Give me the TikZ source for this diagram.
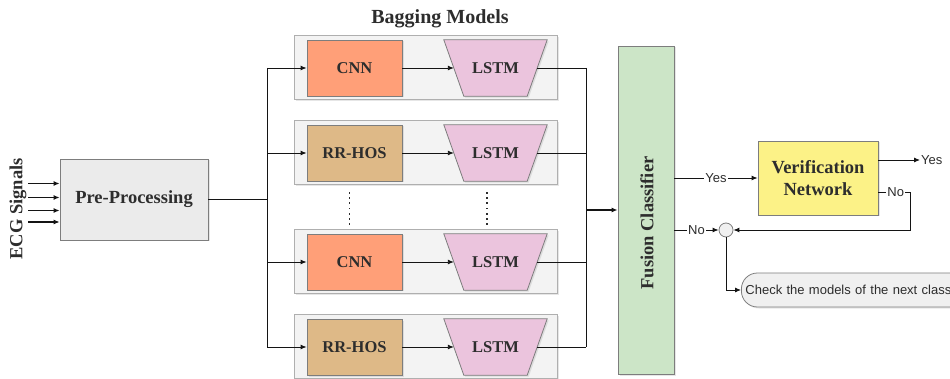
\documentclass[tikz,border=0pt]{standalone}
\usepackage{fontspec}
\setmainfont{Liberation Serif}
\newfontfamily\arialf{Liberation Sans}
\usetikzlibrary{arrows.meta,shadows}

\definecolor{cnnfill}{RGB}{255,159,120}
\definecolor{hosfill}{RGB}{222,185,135}
\definecolor{lstmfill}{RGB}{235,196,221}
\definecolor{grpfill}{RGB}{243,243,243}
\definecolor{grpline}{RGB}{175,175,175}
\definecolor{prefill}{RGB}{235,235,235}
\definecolor{fusfill}{RGB}{204,229,199}
\definecolor{verfill}{RGB}{252,242,135}
\definecolor{chkfill}{RGB}{240,240,240}
\definecolor{txt}{RGB}{45,45,45}
\definecolor{edge}{RGB}{125,125,125}
\definecolor{wire}{RGB}{20,20,20}

\begin{document}
\begin{tikzpicture}[x=1pt,y=-1pt,
  shade/.style={drop shadow={shadow xshift=1.5pt,shadow yshift=-1.5pt,opacity=0.2}},
  group/.style={draw=grpline,fill=grpfill,line width=0.8pt,minimum width=263pt,minimum height=64pt,inner sep=0pt,shade},
  lbl/.style={text=txt,inner sep=0pt,font=\bfseries\fontsize{16.5}{18}\selectfont},
  block/.style={lbl,draw=edge,line width=0.8pt,shade},
  cnnbox/.style={block,fill=cnnfill,minimum width=95pt,minimum height=56pt},
  hosbox/.style={block,fill=hosfill,minimum width=95pt,minimum height=56pt},
  lstmframe/.style={inner sep=0pt,minimum width=103pt,minimum height=56pt},
  lstmshape/.style={draw=edge,fill=lstmfill,line width=0.8pt,line join=miter,shade},
  bigtxt/.style={text=txt,font=\bfseries\fontsize{18.5}{21}\selectfont},
  ans/.style={font=\arialf\fontsize{13}{15}\selectfont,text=txt,fill=white,inner sep=1pt},
  wirel/.style={draw=wire,line width=0.9pt},
  arr/.style={wirel,-{Latex[length=6pt,width=5pt]}},
]
\useasboundingbox (0,0) rectangle (950,379);
\clip (0,0) rectangle (950,379);

% title
\node[text=txt,font=\bfseries\fontsize{20}{22}\selectfont] (title) at (440,19) {Bagging Models};

% input signals and pre-processing
\node[bigtxt,rotate=90] (ecg) at (18,209) {ECG Signals};
\node[block,fill=prefill,minimum width=148pt,minimum height=81pt,
  font=\bfseries\fontsize{18.5}{21}\selectfont] (pre) at (134,199.5) {Pre-Processing};
\foreach \i/\yy in {0/183.5,1/197.5,2/210.5,3/222} {
  \coordinate (in\i) at (28,\yy);
  \draw[arr,line width=1.1pt] (in\i) -- (pre.west|-in\i);
}

% bagging groups: feature extractor followed by an LSTM
\foreach \m/\yy/\feat/\fstyle in {A/68/CNN/cnnbox,B/153/RR-HOS/hosbox,C/262/CNN/cnnbox,D/347/RR-HOS/hosbox} {
  \node[group] (g\m) at (425.5,\yy-0.5) {};
  \node[\fstyle] (f\m) at (354.5,\yy) {\feat};
  \node[lstmframe] (l\m) at (495.5,\yy) {};
  \path[lstmshape] (l\m.north west) -- (l\m.north east)
    -- ([xshift=-20pt]l\m.south east) -- ([xshift=20pt]l\m.south west) -- cycle;
  \node[lbl] (lt\m) at (l\m) {LSTM};
}

% omitted models
\foreach \xx in {349.5,487} {
  \foreach \k in {0,...,6} {
    \fill[txt] (\xx-0.9,193+\k*5.2-0.9) rectangle ++(1.8,1.8);
  }
}

% distribution and collection buses
\coordinate (bl) at (267,0);
\coordinate (br) at (586,0);
\draw[wirel,line width=1.8pt] (pre.east) -- (bl|-pre.east);
\draw[wirel] (bl|-fA.west) -- (bl|-fD.west);
\draw[wirel] (br|-lA.east) -- (br|-lD.east);
\foreach \m in {A,B,C,D} {
  \draw[arr] (bl|-f\m.west) -- (f\m.west);
  \draw[arr] (f\m.east) -- ([xshift=10pt]l\m.west);
  \draw[wirel] ([xshift=-10pt]l\m.east) -- (br|-l\m.east);
}

% fusion
\node[draw=edge,fill=fusfill,line width=0.8pt,minimum width=56pt,minimum height=328pt,shade] (fus) at (646,210) {};
\node[bigtxt,rotate=90] (fusT) at (647,223) {Fusion Classifier};
\draw[arr,line width=1.8pt] (br|-fus.west) -- (fus.west);

% verification
\node[block,fill=verfill,minimum width=120pt,minimum height=74pt,align=center,
  font=\bfseries\fontsize{18.5}{22}\selectfont] (ver) at (818,178) {Verification\\Network};
\node[circle,draw=edge,fill=chkfill,minimum size=14pt,inner sep=0pt,line width=0.8pt] (cir) at (726,230) {};
\node[draw=edge,fill=chkfill,line width=0.8pt,rounded corners=16pt,minimum height=34pt,
  text width=222pt,align=left,inner xsep=4pt,anchor=west,shade,
  font=\arialf\fontsize{13}{15}\selectfont,text=txt] (chk) at (741,290) {Check the models of the next class};

\draw[arr] (fus.east|-ver.west) -- node[ans] {Yes} (ver.west);
\node[ans,fill=none,anchor=west] (yesT) at (920,160) {Yes};
\draw[arr] (ver.east|-yesT) -- (yesT.west);
\coordinate (nv) at (910,192);
\draw[arr] (ver.east|-nv) -- node[ans,pos=0.55] {No} (nv) -- (nv|-cir.east) -- (cir.east);
\draw[arr] (fus.east|-cir.west) -- node[ans] {No} (cir.west);
\draw[arr] (cir.south) |- (chk.west);
\end{tikzpicture}
\end{document}
